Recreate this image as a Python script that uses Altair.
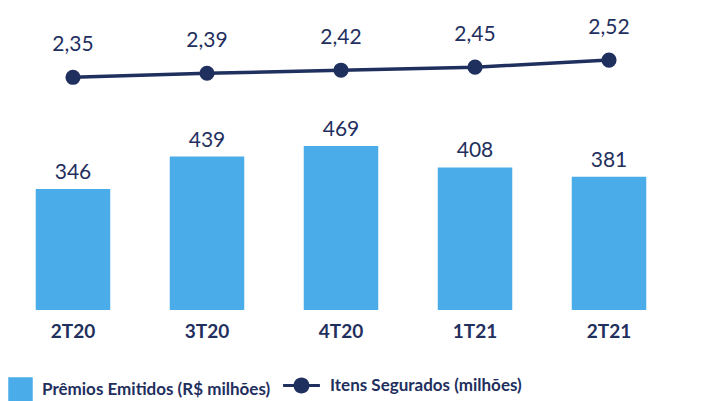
import altair as alt
import pandas as pd

quarters = ["2T20", "3T20", "4T20", "1T21", "2T21"]
premios = [346, 439, 469, 408, 381]
itens = [2.35, 2.39, 2.42, 2.45, 2.52]

BAR_NAME = "Prêmios Emitidos (R$ milhões)"
LINE_NAME = "Itens Segurados (milhões)"
BLUE = "#4AACE8"
NAVY = "#1F2F5E"
FONT = "Lato"

df = pd.DataFrame({"q": quarters, "premios": premios, "itens": itens})

x = alt.X("q:N", sort=quarters, title=None,
          scale=alt.Scale(paddingInner=0.444, paddingOuter=0.207),
          axis=alt.Axis(labelAngle=0, domain=False, ticks=False, labelPadding=12,
                        labelFontSize=19, labelFontWeight="bold", labelColor=NAVY,
                        labelFont=FONT))

ybar = alt.Y("premios:Q", scale=alt.Scale(domain=[0, 864], nice=False, zero=True), axis=None)
yline = alt.Y("itens:Q", scale=alt.Scale(domain=[0.046, 3.036], nice=False, zero=False), axis=None)

bars = alt.Chart(df).mark_bar().encode(
    x=x, y=ybar,
    fill=alt.Fill("bname:N", scale=alt.Scale(domain=[BAR_NAME], range=[BLUE]),
                  legend=alt.Legend(orient="none", legendX=0, legendY=369, title=None,
                                    symbolType="square", symbolSize=600,
                                    symbolStrokeWidth=0, labelFontSize=17,
                                    labelFontWeight="bold", labelColor=NAVY, labelFont=FONT,
                                    labelOffset=9, labelLimit=600))
).transform_calculate(bname=f"'{BAR_NAME}'")

bar_text = alt.Chart(df).mark_text(dy=-6, baseline="bottom", fontSize=21, color=NAVY, font=FONT).encode(
    x=x, y=ybar, text=alt.Text("premios:Q")
)

line = alt.Chart(df).mark_line(strokeWidth=3.5).encode(
    x=x, y=yline,
    stroke=alt.Stroke("lname:N", scale=alt.Scale(domain=[LINE_NAME], range=[NAVY]),
                      legend=alt.Legend(orient="none", legendX=285, legendY=369, title=None,
                                        symbolType="M-2.3,-0.2L2.3,-0.2L2.3,0.2L-2.3,0.2Z M1,0A1,1,0,1,1,-1,0A1,1,0,1,1,1,0Z",
                                        symbolSize=256, symbolFillColor=NAVY,
                                        symbolStrokeWidth=0, labelFontSize=17,
                                        labelFontWeight="bold", labelColor=NAVY, labelFont=FONT,
                                        labelOffset=20, labelLimit=600))
).transform_calculate(lname=f"'{LINE_NAME}'")

points = alt.Chart(df).mark_circle(size=230, opacity=1, color=NAVY).encode(x=x, y=yline)

line_text = alt.Chart(df).transform_calculate(
    lab="replace(format(datum.itens, '.2f'), '.', ',')"
).mark_text(dy=-22, baseline="bottom", fontSize=21, color=NAVY, font=FONT).encode(
    x=x, y=yline, text="lab:N"
)

chart = alt.layer(bars, bar_text, line, points, line_text).resolve_scale(y="independent").properties(
    width=666, height=302,
    autosize=alt.AutoSizeParams(type="none"),
    padding={"left": 0, "top": 0, "right": 20, "bottom": 95},
).configure(font=FONT).configure_view(stroke=None)

chart.save("out.html", embed_options={"renderer": "svg", "actions": False})
